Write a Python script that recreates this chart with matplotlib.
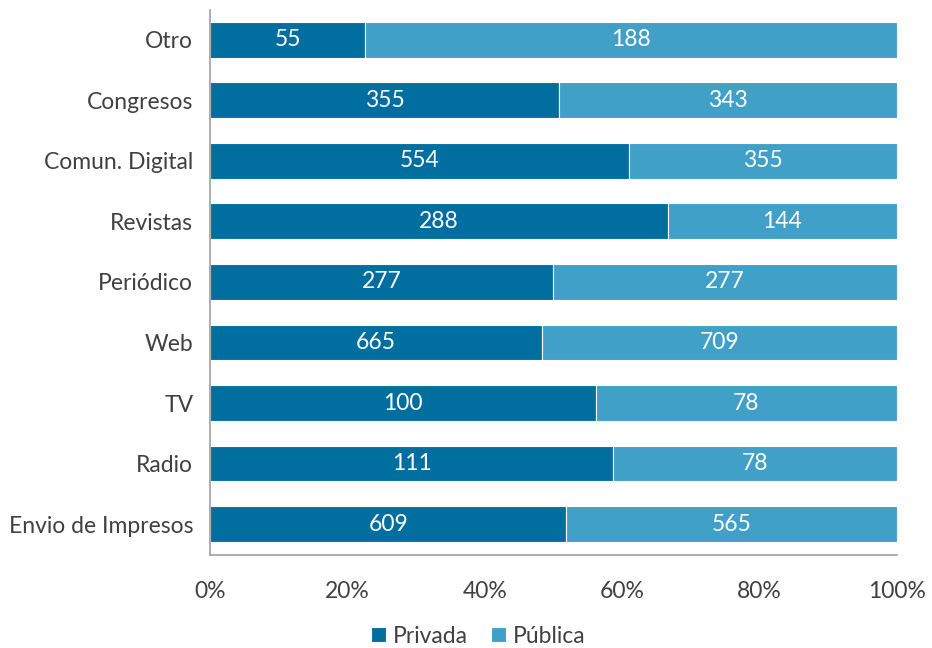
import numpy as np
import matplotlib.pyplot as plt
from matplotlib.ticker import PercentFormatter

categories = ["Otro", "Congresos", "Comun. Digital", "Revistas", "Periódico",
              "Web", "TV", "Radio", "Envio de Impresos"]
privada = [55, 355, 554, 288, 277, 665, 100, 111, 609]
publica = [188, 343, 355, 144, 277, 709, 78, 78, 565]

plt.rcParams['font.family'] = ['Lato', 'DejaVu Sans']

priv = np.array(privada, dtype=float)
pub = np.array(publica, dtype=float)
total = priv + pub
priv_pct = priv / total * 100
pub_pct = pub / total * 100

fig = plt.figure(figsize=(9.32, 6.48), dpi=100)
ax = fig.add_axes([0.2253, 0.1435, 0.7371, 0.8411])

y = np.arange(len(categories))
dark = "#006fa0"
light = "#41a0c8"
b1 = ax.barh(y, priv_pct, height=0.59, color=dark, edgecolor="white", linewidth=0.8, label="Privada")
b2 = ax.barh(y, pub_pct, left=priv_pct, height=0.59, color=light, edgecolor="white", linewidth=0.8, label="Pública")

for i in range(len(categories)):
    ax.text(priv_pct[i] / 2, y[i], str(privada[i]), ha="center", va="center",
            color="white", fontsize=16.5)
    ax.text(priv_pct[i] + pub_pct[i] / 2, y[i], str(publica[i]), ha="center", va="center",
            color="white", fontsize=16.5)

ax.set_yticks(y)
ax.set_yticklabels(categories)
ax.set_ylim(len(categories) - 0.49, -0.49)
ax.set_xlim(0, 100)
ax.set_xticks([0, 20, 40, 60, 80, 100])
ax.xaxis.set_major_formatter(PercentFormatter(decimals=0))

ax.tick_params(axis="y", length=0, pad=12, labelsize=16.5, labelcolor="#404040")
ax.tick_params(axis="x", length=0, pad=19, labelsize=16.5, labelcolor="#404040")

for s in ["top", "right"]:
    ax.spines[s].set_visible(False)
for s in ["left", "bottom"]:
    ax.spines[s].set_color("#a0a0a0")
    ax.spines[s].set_linewidth(1.2)

fig.legend(handles=[b1, b2], loc="center", bbox_to_anchor=(0.513, 0.018), ncol=2,
           frameon=False, fontsize=16.5, handlelength=0.65, handleheight=0.65,
           handletextpad=0.3, columnspacing=1.0, labelcolor="#404040")

fig.savefig("out.png", dpi=100)
